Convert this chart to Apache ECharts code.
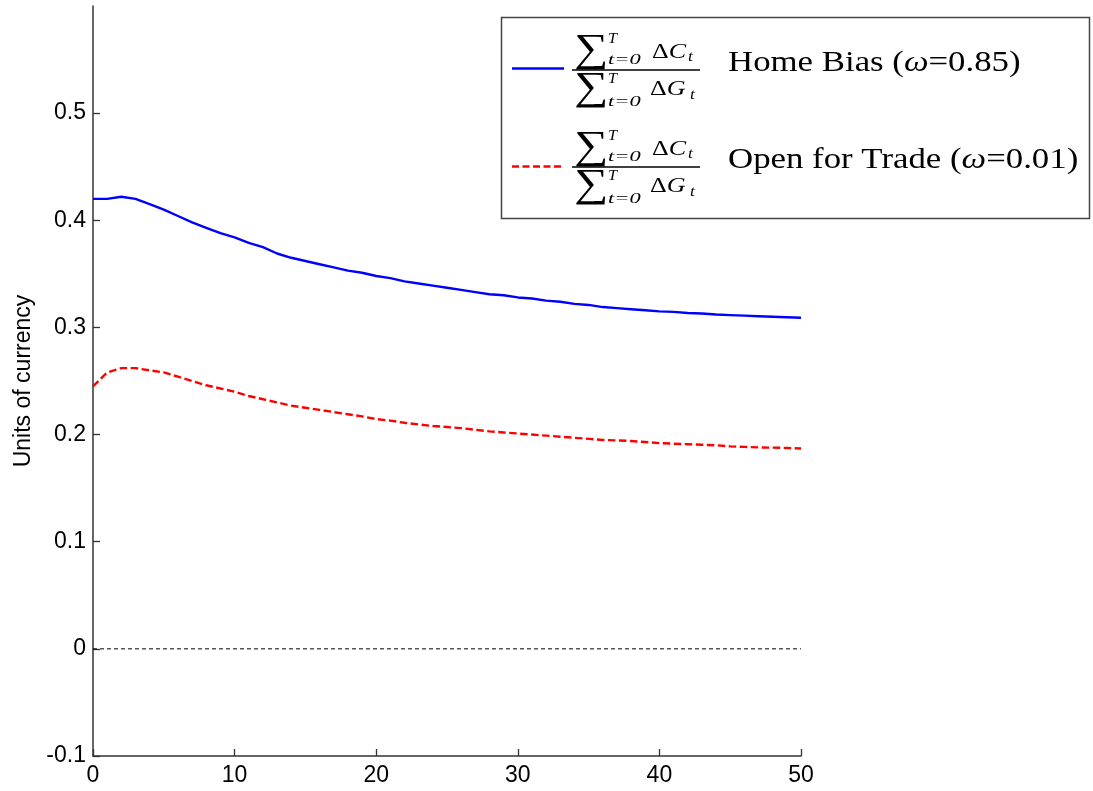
<!DOCTYPE html>
<html>
<head>
<meta charset="utf-8">
<script src="https://cdn.jsdelivr.net/npm/echarts@6/dist/echarts.min.js"></script>
<style>
html,body{margin:0;padding:0;background:#fff;}
#chart{width:1093px;height:791px;}
</style>
</head>
<body>
<div id="chart"></div>
<script>
// ---- data ----
const periods = [0,1,2,3,4,5,6,7,8,9,10,11,12,13,14,15,16,17,18,19,20,21,22,23,24,25,26,27,28,29,30,31,32,33,34,35,36,37,38,39,40,41,42,43,44,45,46,47,48,49,50];
const homeBias = [0.420,0.420,0.422,0.420,0.415,0.410,0.404,0.398,0.393,0.388,0.384,0.379,0.375,0.369,0.365,0.362,0.359,0.356,0.353,0.351,0.348,0.346,0.343,0.341,0.339,0.337,0.335,0.333,0.331,0.330,0.328,0.327,0.325,0.324,0.322,0.321,0.319,0.318,0.317,0.316,0.315,0.3145,0.3135,0.313,0.312,0.3115,0.311,0.3105,0.310,0.3095,0.309];
const openTrade = [0.245,0.258,0.262,0.262,0.260,0.258,0.254,0.250,0.246,0.243,0.240,0.236,0.233,0.230,0.227,0.225,0.223,0.221,0.219,0.217,0.2145,0.213,0.211,0.2095,0.208,0.207,0.206,0.2045,0.203,0.202,0.201,0.200,0.199,0.198,0.197,0.196,0.195,0.1945,0.194,0.193,0.192,0.1915,0.191,0.1905,0.190,0.189,0.1885,0.188,0.1878,0.1875,0.187];
const zeroX = [0,50];
const zeroY = [0,0];
const yTicks = [-0.1,0,0.1,0.2,0.3,0.4,0.5];
const xTicks = [0,10,20,30,40,50];
const seriesNames = ['Home Bias (ω=0.85)','Open for Trade (ω=0.01)'];
const yAxisTitle = 'Units of currency';

// ---- legend drawing helpers (graphic) ----
const SERIF = '"Liberation Serif", "Times New Roman", serif';
function txt(x, y, text, size, opts) {
  opts = opts || {};
  return {
    type: 'text', x: x, y: y, scaleX: opts.sx || 1, z: 101,
    style: {
      text: text, fontFamily: opts.family || SERIF, fontSize: size,
      fontStyle: opts.italic ? 'italic' : 'normal',
      fill: '#000', align: 'left', verticalAlign: 'middle',
      rich: opts.rich
    }
  };
}
function fraction(dy) {
  const els = [];
  const mathRich = {u: {fontSize: 20, fontFamily: SERIF}, i: {fontSize: 20, fontFamily: SERIF, fontStyle: 'italic'}};
  // numerator
  els.push(txt(574, 50 + dy, '∑', 40, {sx: 1.2}));
  els.push(txt(608, 39 + dy, 'T', 14, {italic: true, sx: 1.15}));
  els.push(txt(608, 60 + dy, 't=0', 15, {italic: true, sx: 1.5}));
  els.push(txt(652, 52.5 + dy, '{u|Δ}{i|C}', 20, {sx: 1.3, rich: mathRich}));
  els.push(txt(688, 57 + dy, 't', 14, {italic: true, sx: 1.25}));
  // bar
  els.push({type: 'line', z: 101, shape: {x1: 572, y1: 70 + dy, x2: 700, y2: 70 + dy}, style: {stroke: '#000', lineWidth: 1.3}});
  // denominator
  els.push(txt(574, 88 + dy, '∑', 40, {sx: 1.2}));
  els.push(txt(608, 79 + dy, 'T', 14, {italic: true, sx: 1.15}));
  els.push(txt(608, 102 + dy, 't=0', 15, {italic: true, sx: 1.5}));
  els.push(txt(650, 90 + dy, '{u|Δ}{i|G}', 20, {sx: 1.3, rich: mathRich}));
  els.push(txt(690, 95 + dy, 't', 14, {italic: true, sx: 1.25}));
  return els;
}
function labelText(name) {
  return name.replace('ω', '{w|ω}');
}
const labelRich = {w: {fontStyle: 'italic', fontSize: 29, fontFamily: SERIF}};

const graphics = [
  {type: 'rect', z: 100, shape: {x: 501.5, y: 17.5, width: 588, height: 201}, style: {fill: '#fff', stroke: '#444', lineWidth: 1.5}},
  {type: 'line', z: 101, shape: {x1: 512, y1: 68.5, x2: 564, y2: 68.5}, style: {stroke: '#0000ff', lineWidth: 2.4}},
  {type: 'line', z: 101, shape: {x1: 512, y1: 166.5, x2: 563, y2: 166.5}, style: {stroke: '#ff0000', lineWidth: 2.4, lineDash: [7, 3.5]}},
  txt(728, 63, labelText(seriesNames[0]), 29, {sx: 1.2, rich: labelRich}),
  txt(728, 160, labelText(seriesNames[1]), 29, {sx: 1.2, rich: labelRich})
].concat(fraction(0), fraction(97));

const chart = echarts.init(document.getElementById('chart'), null, {renderer: 'canvas'});
const axisFont = {fontFamily: '"Liberation Sans", Arial, sans-serif', fontSize: 23, color: '#000'};
chart.setOption({
  backgroundColor: '#fff',
  animation: false,
  grid: {left: 93, right: 292, top: 6, bottom: 35, containLabel: false},
  xAxis: {
    type: 'value', min: 0, max: 50, interval: 10,
    axisLine: {show: true, onZero: false, lineStyle: {color: '#333', width: 1.5}},
    axisTick: {show: true, inside: true, length: 7, lineStyle: {color: '#333', width: 1.3}},
    axisLabel: Object.assign({margin: 8, customValues: xTicks, formatter: v => String(v)}, axisFont),
    splitLine: {show: false}
  },
  yAxis: {
    type: 'value', min: -0.1, max: 0.6,
    name: yAxisTitle, nameLocation: 'middle', nameGap: 54, nameRotate: 90,
    nameTextStyle: {fontFamily: '"Liberation Sans", Arial, sans-serif', fontSize: 23, color: '#000'},
    axisLine: {show: true, onZero: false, lineStyle: {color: '#333', width: 1.5}},
    axisTick: {show: true, inside: true, length: 7, customValues: yTicks, lineStyle: {color: '#333', width: 1.3}},
    axisLabel: Object.assign({margin: 7, customValues: yTicks, formatter: v => String(Math.round(v * 10) / 10)}, axisFont),
    splitLine: {show: false}
  },
  series: [
    {name: 'zero', type: 'line', data: zeroX.map((x, i) => [x, zeroY[i]]), symbol: 'none', silent: true,
     lineStyle: {color: '#000', width: 1, type: [4, 3]}, z: 1},
    {name: seriesNames[0], type: 'line', data: periods.map((x, i) => [x, homeBias[i]]), symbol: 'none',
     lineStyle: {color: '#0000ff', width: 2.4}, z: 3},
    {name: seriesNames[1], type: 'line', data: periods.map((x, i) => [x, openTrade[i]]), symbol: 'none',
     lineStyle: {color: '#ff0000', width: 2.4, type: [7.5, 3.5]}, z: 2}
  ],
  graphic: graphics
});
</script>
</body>
</html>
